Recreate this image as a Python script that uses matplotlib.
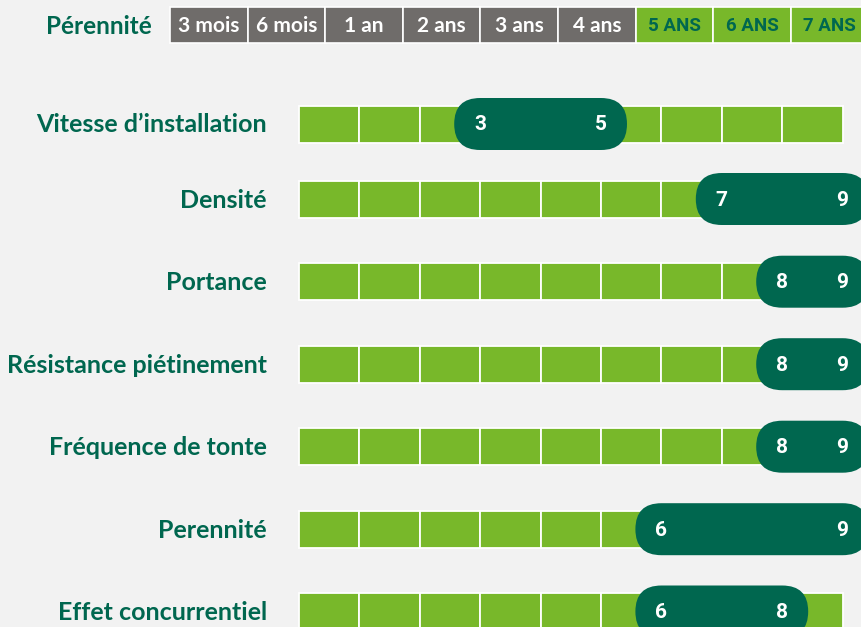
import matplotlib
matplotlib.use('Agg')
import matplotlib.pyplot as plt
from matplotlib.patches import Rectangle, FancyBboxPatch

# data
criteria = ['Vitesse d’installation', 'Densité', 'Portance', 'Résistance piétinement',
            'Fréquence de tonte', 'Perennité', 'Effet concurrentiel']
low = [3, 7, 8, 8, 8, 6, 6]
high = [5, 9, 9, 9, 9, 9, 8]
n_segments = 9
periods = ['3 mois', '6 mois', '1 an', '2 ans', '3 ans', '4 ans', '5 ANS', '6 ANS', '7 ANS']
n_grey = 6

# colours
bg = '#F2F2F2'
green = '#78B82A'
dark = '#00674F'
grey = '#6F6C6A'

# layout (pixel units)
W, H = 862, 627
x0, seg_w = 299, 60.4
bar_h, pill_h = 37, 52
row_y = [124, 199, 281.7, 364.2, 446.7, 529.2, 611.5]
head_x0, head_w, head_y, head_h = 170, 77.6, 7, 36

def xv(v):
    return x0 + seg_w * v

fig = plt.figure(figsize=(W / 100, H / 100), dpi=100, facecolor=bg)
ax = fig.add_axes([0, 0, 1, 1])
ax.set_xlim(0, W)
ax.set_ylim(H, 0)
ax.axis('off')
ax.set_facecolor(bg)

label_font = 'Lato'
cond_font = ['Roboto', 'DejaVu Sans']

# header
ax.text(152, head_y + head_h / 2 + 1, 'Pérennité', ha='right', va='center',
        fontsize=17.5, fontweight='bold', color=dark, family=label_font)
for i, p in enumerate(periods):
    left = head_x0 + i * head_w
    fc = grey if i < n_grey else green
    ax.add_patch(Rectangle((left, head_y), head_w, head_h, facecolor=fc,
                           edgecolor='white', linewidth=1.2))
    if i < n_grey:
        ax.text(left + head_w / 2, head_y + head_h / 2 + 1, p, ha='center', va='center',
                fontsize=15, fontweight='bold', color='white', family=label_font)
    else:
        ax.text(left + head_w / 2, head_y + head_h / 2 + 1, p, ha='center', va='center',
                fontsize=13.5, fontweight='bold', color=dark, family=cond_font)

# rows
for name, lo, hi, y in zip(criteria, low, high, row_y):
    ax.text(267, y + 1, name, ha='right', va='center', fontsize=18,
            fontweight='bold', color=dark, family=label_font)
    for s in range(n_segments):
        ax.add_patch(Rectangle((xv(s), y - bar_h / 2), seg_w, bar_h, facecolor=green,
                               edgecolor='white', linewidth=1.3))
    r = pill_h / 2
    ax.add_patch(FancyBboxPatch((xv(lo) - r, y - r), xv(hi) - xv(lo) + 2 * r, pill_h,
                                boxstyle='round,pad=0,rounding_size=%g' % r,
                                facecolor=dark, edgecolor='none', zorder=3))
    for v in (lo, hi):
        ax.text(xv(v), y + 1, str(v), ha='center', va='center', fontsize=15,
                fontweight='bold', color='white', family=cond_font, zorder=4)

fig.savefig('out.png', dpi=100, facecolor=bg)
